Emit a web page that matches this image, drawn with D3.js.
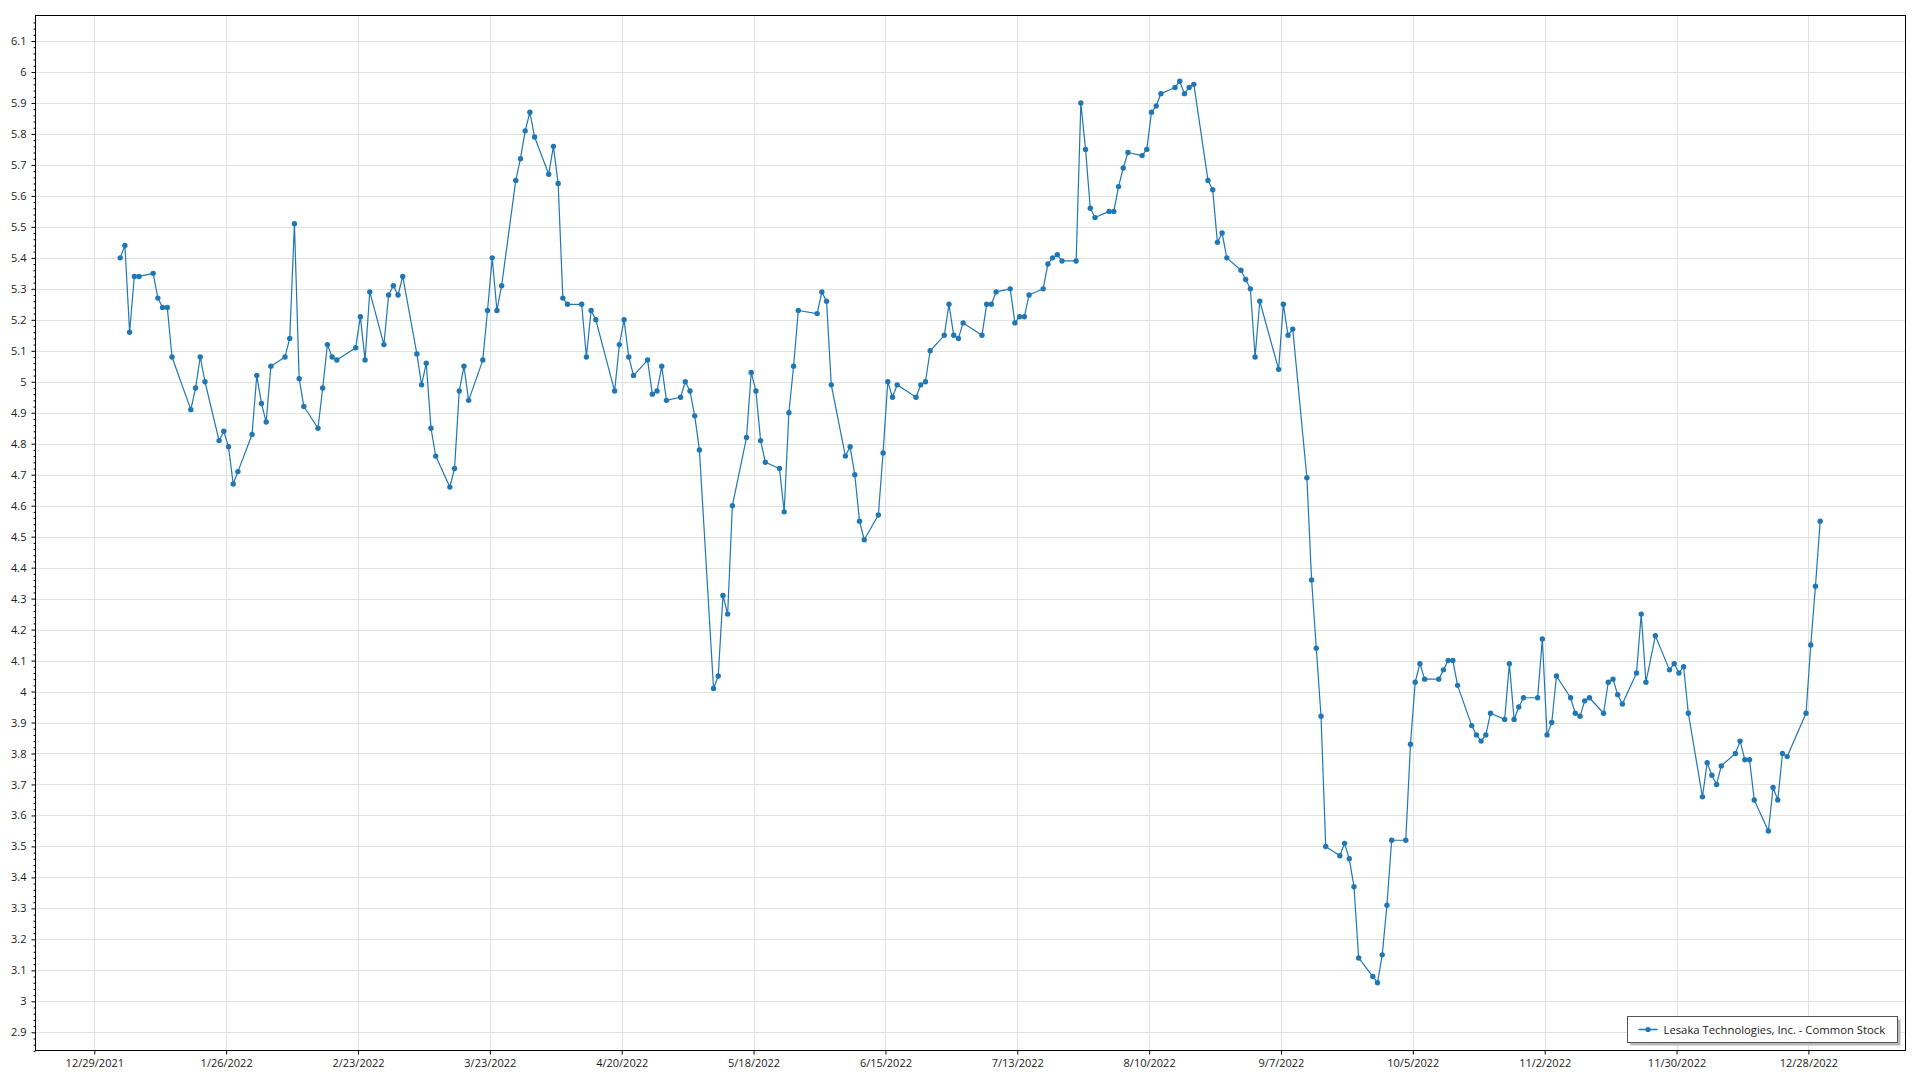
<!DOCTYPE html>
<html><head><meta charset="utf-8">
<script src="https://cdn.jsdelivr.net/npm/d3@7"></script>
<style>
html,body{margin:0;padding:0;background:#fff;}
svg{display:block;}
text{font-family:"Segoe UI","Open Sans","Noto Sans",sans-serif;fill:#1a1a1a;}
</style>
</head><body>
<svg id="chart" width="1920" height="1080"></svg>
<script>
const seriesName = "Lesaka Technologies, Inc. - Common Stock";

const tradeDates = [
"2022-01-03","2022-01-04","2022-01-05","2022-01-06","2022-01-07","2022-01-10","2022-01-11","2022-01-12","2022-01-13","2022-01-14","2022-01-18","2022-01-19","2022-01-20","2022-01-21","2022-01-24","2022-01-25","2022-01-26","2022-01-27","2022-01-28","2022-01-31",
"2022-02-01","2022-02-02","2022-02-03","2022-02-04","2022-02-07","2022-02-08","2022-02-09","2022-02-10","2022-02-11","2022-02-14","2022-02-15","2022-02-16","2022-02-17","2022-02-18","2022-02-22","2022-02-23","2022-02-24","2022-02-25","2022-02-28",
"2022-03-01","2022-03-02","2022-03-03","2022-03-04","2022-03-07","2022-03-08","2022-03-09","2022-03-10","2022-03-11","2022-03-14","2022-03-15","2022-03-16","2022-03-17","2022-03-18","2022-03-21","2022-03-22","2022-03-23","2022-03-24","2022-03-25","2022-03-28","2022-03-29","2022-03-30","2022-03-31",
"2022-04-01","2022-04-04","2022-04-05","2022-04-06","2022-04-07","2022-04-08","2022-04-11","2022-04-12","2022-04-13","2022-04-14","2022-04-18","2022-04-19","2022-04-20","2022-04-21","2022-04-22","2022-04-25","2022-04-26","2022-04-27","2022-04-28","2022-04-29",
"2022-05-02","2022-05-03","2022-05-04","2022-05-05","2022-05-06","2022-05-09","2022-05-10","2022-05-11","2022-05-12","2022-05-13","2022-05-16","2022-05-17","2022-05-18","2022-05-19","2022-05-20","2022-05-23","2022-05-24","2022-05-25","2022-05-26","2022-05-27","2022-05-31",
"2022-06-01","2022-06-02","2022-06-03","2022-06-06","2022-06-07","2022-06-08","2022-06-09","2022-06-10","2022-06-13","2022-06-14","2022-06-15","2022-06-16","2022-06-17","2022-06-21","2022-06-22","2022-06-23","2022-06-24","2022-06-27","2022-06-28","2022-06-29","2022-06-30",
"2022-07-01","2022-07-05","2022-07-06","2022-07-07","2022-07-08","2022-07-11","2022-07-12","2022-07-13","2022-07-14","2022-07-15","2022-07-18","2022-07-19","2022-07-20","2022-07-21","2022-07-22","2022-07-25","2022-07-26","2022-07-27","2022-07-28","2022-07-29",
"2022-08-01","2022-08-02","2022-08-03","2022-08-04","2022-08-05","2022-08-08","2022-08-09","2022-08-10","2022-08-11","2022-08-12","2022-08-15","2022-08-16","2022-08-17","2022-08-18","2022-08-19","2022-08-22","2022-08-23","2022-08-24","2022-08-25","2022-08-26","2022-08-29","2022-08-30","2022-08-31",
"2022-09-01","2022-09-02","2022-09-06","2022-09-07","2022-09-08","2022-09-09","2022-09-12","2022-09-13","2022-09-14","2022-09-15","2022-09-16","2022-09-19","2022-09-20","2022-09-21","2022-09-22","2022-09-23","2022-09-26","2022-09-27","2022-09-28","2022-09-29","2022-09-30",
"2022-10-03","2022-10-04","2022-10-05","2022-10-06","2022-10-07","2022-10-10","2022-10-11","2022-10-12","2022-10-13","2022-10-14","2022-10-17","2022-10-18","2022-10-19","2022-10-20","2022-10-21","2022-10-24","2022-10-25","2022-10-26","2022-10-27","2022-10-28","2022-10-31",
"2022-11-01","2022-11-02","2022-11-03","2022-11-04","2022-11-07","2022-11-08","2022-11-09","2022-11-10","2022-11-11","2022-11-14","2022-11-15","2022-11-16","2022-11-17","2022-11-18","2022-11-21","2022-11-22","2022-11-23","2022-11-25","2022-11-28","2022-11-29","2022-11-30",
"2022-12-01","2022-12-02","2022-12-05","2022-12-06","2022-12-07","2022-12-08","2022-12-09","2022-12-12","2022-12-13","2022-12-14","2022-12-15","2022-12-16","2022-12-19","2022-12-20","2022-12-21","2022-12-22","2022-12-23","2022-12-27","2022-12-28","2022-12-29","2022-12-30"
];

const closePrices = [
5.40,5.44,5.16,5.34,5.34,5.35,5.27,5.24,5.24,5.08,4.91,4.98,5.08,5.00,4.81,4.84,4.79,4.67,4.71,4.83,
5.02,4.93,4.87,5.05,5.08,5.14,5.51,5.01,4.92,4.85,4.98,5.12,5.08,5.07,5.11,5.21,5.07,5.29,5.12,
5.28,5.31,5.28,5.34,5.09,4.99,5.06,4.85,4.76,4.66,4.72,4.97,5.05,4.94,5.07,5.23,5.40,5.23,5.31,5.65,5.72,5.81,5.87,
5.79,5.67,5.76,5.64,5.27,5.25,5.25,5.08,5.23,5.20,4.97,5.12,5.20,5.08,5.02,5.07,4.96,4.97,5.05,4.94,
4.95,5.00,4.97,4.89,4.78,4.01,4.05,4.31,4.25,4.60,4.82,5.03,4.97,4.81,4.74,4.72,4.58,4.90,5.05,5.23,5.22,
5.29,5.26,4.99,4.76,4.79,4.70,4.55,4.49,4.57,4.77,5.00,4.95,4.99,4.95,4.99,5.00,5.10,5.15,5.25,5.15,5.14,
5.19,5.15,5.25,5.25,5.29,5.30,5.19,5.21,5.21,5.28,5.30,5.38,5.40,5.41,5.39,5.39,5.90,5.75,5.56,5.53,
5.55,5.55,5.63,5.69,5.74,5.73,5.75,5.87,5.89,5.93,5.95,5.97,5.93,5.95,5.96,5.65,5.62,5.45,5.48,5.40,5.36,5.33,5.30,
5.08,5.26,5.04,5.25,5.15,5.17,4.69,4.36,4.14,3.92,3.50,3.47,3.51,3.46,3.37,3.14,3.08,3.06,3.15,3.31,3.52,
3.52,3.83,4.03,4.09,4.04,4.04,4.07,4.10,4.10,4.02,3.89,3.86,3.84,3.86,3.93,3.91,4.09,3.91,3.95,3.98,3.98,
4.17,3.86,3.90,4.05,3.98,3.93,3.92,3.97,3.98,3.93,4.03,4.04,3.99,3.96,4.06,4.25,4.03,4.18,4.07,4.09,4.06,
4.08,3.93,3.66,3.77,3.73,3.70,3.76,3.80,3.84,3.78,3.78,3.65,3.55,3.69,3.65,3.80,3.79,3.93,4.15,4.34,4.55
];

const xTickDates = ["2021-12-29","2022-01-26","2022-02-23","2022-03-23","2022-04-20","2022-05-18","2022-06-15","2022-07-13","2022-08-10","2022-09-07","2022-10-05","2022-11-02","2022-11-30","2022-12-28"];
const yTickValues = [2.9,3.0,3.1,3.2,3.3,3.4,3.5,3.6,3.7,3.8,3.9,4.0,4.1,4.2,4.3,4.4,4.5,4.6,4.7,4.8,4.9,5.0,5.1,5.2,5.3,5.4,5.5,5.6,5.7,5.8,5.9,6.0,6.1];

const parse = d3.timeParse("%Y-%m-%d");
const parseNoon = d3.timeParse("%Y-%m-%dT%H:%M");
// trading records are stamped at midday, ticks at midnight
const data = tradeDates.map((d, i) => ({date: parseNoon(d + "T12:00"), v: closePrices[i]}));
const xTicks = xTickDates.map(parse);

const L = 35.5, R = 1905.5, T = 15.5, B = 1050.5;
const color = "#1f77b4";

const x = d3.scaleTime()
  .domain([parse("2021-12-29"), parse("2022-12-28")])
  .range([94.3, 1808.4]);
const y = d3.scaleLinear().domain([2.9, 6.1]).range([1032.3, 41.0]);

const svg = d3.select("#chart");

// gridlines
const grid = svg.append("g").attr("stroke", "#e2e2e2").attr("stroke-width", 1);
grid.selectAll("line.v").data(xTicks).join("line")
  .attr("x1", d => Math.round(x(d)) + 0.5).attr("x2", d => Math.round(x(d)) + 0.5)
  .attr("y1", T).attr("y2", B);
grid.selectAll("line.h").data(yTickValues).join("line")
  .attr("x1", L).attr("x2", R)
  .attr("y1", d => Math.round(y(d)) + 0.5).attr("y2", d => Math.round(y(d)) + 0.5);

// axes
const fmtX = d3.timeFormat("%-m/%-d/%Y");
const xAxis = svg.append("g").attr("transform", `translate(0,${B})`)
  .call(d3.axisBottom(x).tickValues(xTicks).tickFormat(fmtX).tickSize(4).tickSizeOuter(0).tickPadding(5));
xAxis.select(".domain").remove();
xAxis.selectAll("text").attr("font-size", 11).style("font-family", '"Segoe UI","Open Sans","Noto Sans",sans-serif').attr("fill", "#1a1a1a");
xAxis.selectAll(".tick line").attr("stroke", "#000");

const minorY = d3.range(2.84, 6.18, 0.02).filter(v => Math.abs(v * 10 - Math.round(v * 10)) > 0.01);
const yMinor = svg.append("g").attr("transform", `translate(${L},0)`)
  .call(d3.axisLeft(y).tickValues(minorY).tickFormat("").tickSize(2).tickSizeOuter(0));
yMinor.select(".domain").remove();
yMinor.selectAll(".tick line").attr("stroke", "#000");

const yAxis = svg.append("g").attr("transform", `translate(${L},0)`)
  .call(d3.axisLeft(y).tickValues(yTickValues).tickFormat(d => String(+d.toFixed(1))).tickSize(4).tickSizeOuter(0).tickPadding(5));
yAxis.select(".domain").remove();
yAxis.selectAll("text").attr("font-size", 11).style("font-family", '"Segoe UI","Open Sans","Noto Sans",sans-serif').attr("fill", "#1a1a1a");
yAxis.selectAll(".tick line").attr("stroke", "#000");

// frame
svg.append("rect").attr("x", L).attr("y", T).attr("width", R - L).attr("height", B - T)
  .attr("fill", "none").attr("stroke", "#000").attr("stroke-width", 1);

// series
const line = d3.line().x(d => x(d.date)).y(d => y(d.v));
svg.append("path").datum(data).attr("d", line)
  .attr("fill", "none").attr("stroke", color).attr("stroke-width", 1.2).attr("stroke-linejoin", "round");
svg.append("g").selectAll("circle").data(data).join("circle")
  .attr("cx", d => x(d.date)).attr("cy", d => y(d.v)).attr("r", 2.7).attr("fill", color);

// legend
const lg = svg.append("g");
const lx = 1627.5, ly = 1016.5, lw = 270, lh = 26;
lg.append("rect").attr("x", lx + 3).attr("y", ly + 3).attr("width", lw).attr("height", lh).attr("fill", "#b8b8b8");
lg.append("rect").attr("x", lx).attr("y", ly).attr("width", lw).attr("height", lh).attr("fill", "#fff").attr("stroke", "#555").attr("stroke-width", 1);
lg.append("line").attr("x1", lx + 11).attr("x2", lx + 30).attr("y1", ly + 13).attr("y2", ly + 13).attr("stroke", color).attr("stroke-width", 1.5);
lg.append("circle").attr("cx", lx + 20.5).attr("cy", ly + 13).attr("r", 2.6).attr("fill", color);
lg.append("text").attr("x", lx + 36).attr("y", ly + 17).attr("font-size", 11.3).text(seriesName);
</script>
</body></html>
